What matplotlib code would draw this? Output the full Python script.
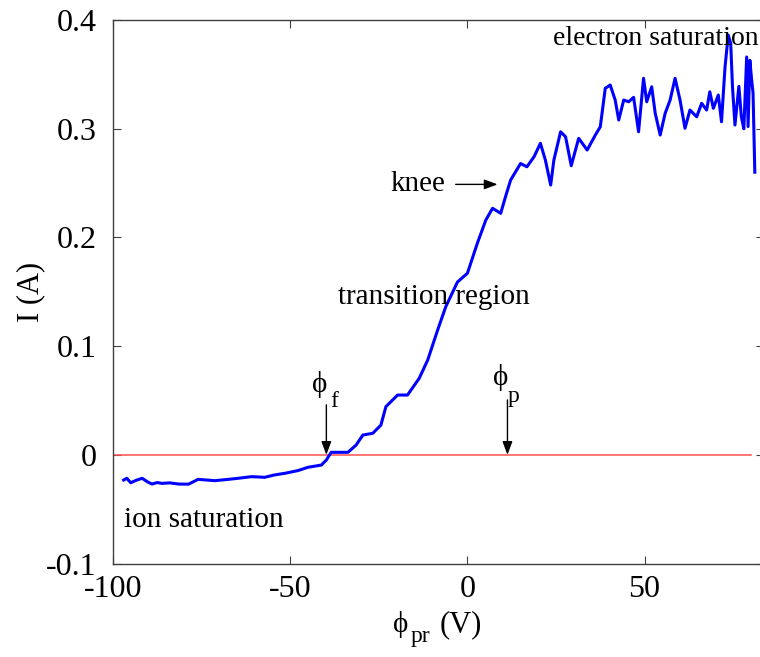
import matplotlib
matplotlib.use("Agg")
import matplotlib.pyplot as plt

plt.rcParams['font.family'] = ['Liberation Serif', 'DejaVu Serif']

# probe voltage (V) and probe current (A)
volts = [-97.0, -96.1, -95.0, -93.5, -91.8, -90.2, -89.0, -87.5, -86.2, -84.0,
         -81.5, -78.7, -76.0, -73.5, -71.3, -67.5, -64.7, -60.9, -57.2, -54.4,
         -51.5, -47.8, -45.0, -41.2, -39.8, -38.9, -38.4, -33.7, -31.4, -29.5,
         -26.7, -24.4, -23.0, -19.7, -16.9, -13.6, -11.2, -8.4, -6.1, -2.8,
         0.0, 2.8, 5.2, 7.1, 9.4, 10.8, 12.2, 15.0, 16.8, 18.8,
         20.6, 22.0, 23.5, 24.4, 26.3, 27.7, 29.3, 31.4, 33.8, 36.1,
         37.5, 38.9, 40.3, 41.7, 42.7, 44.1, 45.5, 46.9, 48.3, 49.7,
         50.6, 52.0, 53.0, 54.4, 55.8, 57.2, 58.6, 60.0, 61.4, 62.8,
         64.7, 66.1, 67.5, 68.4, 69.4, 70.8, 71.7, 72.7, 73.6, 74.3,
         74.8, 75.5, 76.6, 77.3, 78.0, 78.8, 79.2, 79.7, 80.2, 80.6, 81.1]
current = [-0.0232, -0.0216, -0.0257, -0.0235, -0.0216, -0.0250, -0.0269, -0.0255, -0.0263, -0.0258,
           -0.0269, -0.0270, -0.0226, -0.0232, -0.0238, -0.0226, -0.0216, -0.0201, -0.0207, -0.0185,
           -0.0170, -0.0145, -0.0115, -0.0094, -0.0048, 0.0, 0.0023, 0.0023, 0.0090, 0.0182,
           0.0198, 0.0274, 0.0443, 0.0550, 0.0550, 0.0704, 0.0872, 0.1148, 0.1363, 0.1590,
           0.1670, 0.1946, 0.2160, 0.2268, 0.2222, 0.2380, 0.2528, 0.2680, 0.2650, 0.2742,
           0.2866, 0.2712, 0.2482, 0.2712, 0.2972, 0.2926, 0.2660, 0.2912, 0.2804, 0.2942,
           0.3018, 0.3372, 0.3402, 0.3264, 0.3080, 0.3264, 0.3248, 0.3289, 0.2972, 0.3464,
           0.3248, 0.3386, 0.3142, 0.2942, 0.3142, 0.3264, 0.3464, 0.3264, 0.3004, 0.3172,
           0.3110, 0.3234, 0.3172, 0.3340, 0.3188, 0.3310, 0.3064, 0.3570, 0.3862, 0.3785,
           0.3386, 0.3034, 0.3390, 0.3110, 0.3000, 0.3660, 0.3020, 0.3630, 0.3450, 0.3330, 0.2600]

zero_x = [-100, 80]
zero_y = [0, 0]

phi_f = -39.8
phi_p = 11.3

fig = plt.figure(figsize=(7.6, 6.57), dpi=100)
ax = fig.add_axes([0.1487, 0.1423, 0.8566, 0.8272])

ax.plot(zero_x, zero_y, color='#ff5050', lw=1.1)
ax.plot(volts, current, color='#0000ff', lw=2.2)

ax.set_xlim(-100, 83.7)
ax.set_ylim(-0.1, 0.4)
ax.set_xticks([-100, -50, 0, 50])
ax.set_xticklabels(['-100', '-50', '0', '50'])
ax.set_yticks([-0.1, 0, 0.1, 0.2, 0.3, 0.4])
ax.set_yticklabels(['-0.1', '0', '0.1', '0.2', '0.3', '0.4'])
ax.tick_params(direction='in', length=6, width=0.8, top=True, right=True,
               labelsize=23, color='#404040')
ax.tick_params(axis='y', pad=12)
ax.tick_params(axis='x', pad=8)
for s in ax.spines.values():
    s.set_color('#404040')
    s.set_linewidth(1.0)

ax.set_ylabel('I (A)', fontsize=22)
ax.yaxis.set_label_coords(-0.1045, 0.5)

# x label built from pieces so the subscript stays large
fig.text(393 / 760, 1 - 632 / 657, '\u03d5', fontsize=21, ha='left', va='baseline')
fig.text(411 / 760, 1 - 642 / 657, 'pr', fontsize=17, ha='left', va='baseline')
fig.text(440 / 760, 1 - 632 / 657, '(V)', fontsize=22, ha='left', va='baseline')

# annotations
ts = 21
ax.text(24.2, 0.377, 'electron saturation', fontsize=20, ha='left', va='baseline')
ax.text(-6.1, 0.2425, 'knee', fontsize=ts, ha='right', va='baseline')
ax.annotate('', xy=(8.5, 0.2488), xytext=(-3.3, 0.2488),
            arrowprops=dict(arrowstyle='-|>,head_length=0.8,head_width=0.3',
                            color='k', lw=1, shrinkA=0, shrinkB=0))
ax.text(-36.4, 0.139, 'transition region', fontsize=ts, ha='left', va='baseline')
ax.text(-96.9, -0.0665, 'ion saturation', fontsize=ts, ha='left', va='baseline')

ax.annotate('', xy=(phi_f, 0), xytext=(phi_f, 0.046),
            arrowprops=dict(arrowstyle='-|>,head_length=0.8,head_width=0.3',
                            color='k', lw=1, shrinkA=0, shrinkB=0))
ax.text(-43.85, 0.0578, '\u03d5', fontsize=21, ha='left', va='baseline')
ax.text(-38.77, 0.044, 'f', fontsize=17, ha='left', va='baseline')
ax.annotate('', xy=(phi_p, 0), xytext=(phi_p, 0.0505),
            arrowprops=dict(arrowstyle='-|>,head_length=0.8,head_width=0.3',
                            color='k', lw=1, shrinkA=0, shrinkB=0))
ax.text(7.22, 0.0642, '\u03d5', fontsize=21, ha='left', va='baseline')
ax.text(11.46, 0.0486, 'p', fontsize=17, ha='left', va='baseline')

fig.savefig('out.png', dpi=100)
